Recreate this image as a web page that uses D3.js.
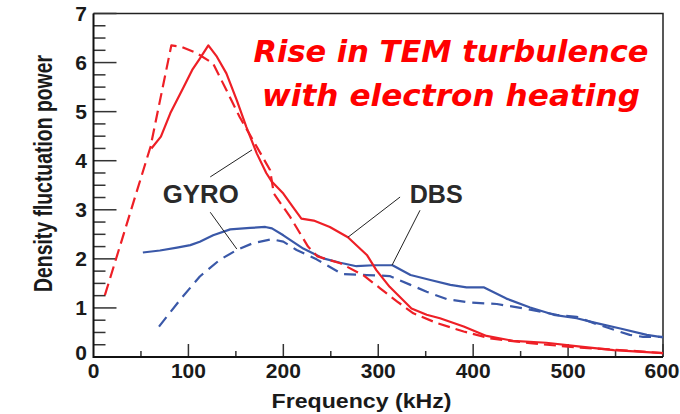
<!DOCTYPE html>
<html>
<head>
<meta charset="utf-8">
<script src="https://cdn.jsdelivr.net/npm/d3@7"></script>
<style>
    body { margin: 0; background: #fff; }
    svg { display: block; }
</style>
</head>
<body>
<div id="plot"></div>
<script>
// Density fluctuation spectra, GYRO (dashed) vs DBS (solid)
const width = 680;
const height = 414;

// frequency in kHz, power in arbitrary units
const red_solid_x = [61, 71, 81, 95, 104, 112, 121, 130, 140, 151, 161, 172, 182, 188, 200, 210, 219, 232, 249, 268, 288, 298, 312, 335, 351, 365, 390, 414, 442, 477, 513, 548, 600];
const red_solid_y = [4.25, 4.49, 4.97, 5.5, 5.85, 6.08, 6.35, 6.12, 5.78, 5.23, 4.69, 4.15, 3.75, 3.57, 3.33, 3.06, 2.82, 2.78, 2.65, 2.44, 2.08, 1.77, 1.43, 0.99, 0.86, 0.79, 0.62, 0.43, 0.33, 0.29, 0.21, 0.14, 0.08];

const red_dash_x = [12, 60, 82, 93, 109, 126, 140, 154, 168, 186, 190, 207, 226, 236, 260, 284, 302, 320, 337, 362, 390, 418, 460, 513, 565, 600];
const red_dash_y = [1.26, 4.28, 6.35, 6.32, 6.19, 5.98, 5.44, 4.89, 4.42, 3.81, 3.33, 2.86, 2.25, 2.05, 1.91, 1.67, 1.4, 1.13, 0.89, 0.69, 0.52, 0.38, 0.28, 0.19, 0.13, 0.08];

const blue_solid_x = [52, 70, 88, 102, 112, 126, 144, 165, 181, 188, 200, 221, 242, 260, 277, 295, 315, 334, 355, 376, 393, 411, 435, 460, 485, 509, 530, 555, 583, 600];
const blue_solid_y = [2.13, 2.17, 2.23, 2.28, 2.35, 2.48, 2.6, 2.63, 2.65, 2.62, 2.48, 2.21, 2.01, 1.92, 1.85, 1.87, 1.87, 1.67, 1.57, 1.47, 1.42, 1.42, 1.19, 1.01, 0.86, 0.79, 0.69, 0.58, 0.45, 0.4];

const blue_dash_x = [69, 91, 112, 133, 151, 168, 188, 200, 214, 235, 262, 288, 312, 334, 351, 372, 397, 425, 453, 488, 509, 530, 565, 579, 600];
const blue_dash_y = [0.62, 1.16, 1.64, 1.98, 2.18, 2.32, 2.4, 2.35, 2.18, 1.99, 1.69, 1.67, 1.65, 1.47, 1.33, 1.18, 1.11, 1.08, 0.99, 0.86, 0.82, 0.67, 0.45, 0.41, 0.41];

const x_ticks = [0, 100, 200, 300, 400, 500, 600];
const y_ticks = [0, 1, 2, 3, 4, 5, 6, 7];

// leader lines, in data units [x0, y0, x1, y1]
const gyro_leaders = [[123, 3.67, 167, 4.22], [123, 2.95, 151, 2.2]];
const dbs_leaders = [[323, 3.26, 268, 2.44], [344, 2.99, 314.5, 1.87]];

const red = "#ee1f26";
const blue = "#3a58a8";

const svg = d3.select("#plot").append("svg")
    .attr("width", width)
    .attr("height", height);

const scale_x = d3.scaleLinear().domain([0, 600]).range([93.5, 663]);
const scale_y = d3.scaleLinear().domain([0, 7]).range([357, 13.5]);

const zip = (xs, ys) => xs.map((x, i) => [x, ys[i]]);
const line = d3.line()
    .x(d => scale_x(d[0]))
    .y(d => scale_y(d[1]));

// frame: top and right border
svg.append("path")
    .attr("fill", "none")
    .attr("stroke", "#222")
    .attr("stroke-width", 1.5)
    .attr("d", `M ${scale_x(0)},${scale_y(7)} H ${scale_x(600)} V ${scale_y(0)}`);

// y ticks: majors every 1, minors every 0.25
const y_minor = d3.range(0, 7.001, 0.25);
svg.append("g")
    .attr("stroke", "#333")
    .attr("stroke-width", 1.5)
    .selectAll("line")
    .data(y_minor)
    .join("line")
    .attr("x1", scale_x(0))
    .attr("x2", d => scale_x(0) + (d % 1 === 0 ? 23 : 12))
    .attr("y1", d => scale_y(d))
    .attr("y2", d => scale_y(d));

// x ticks: majors every 100, minors every 50
const x_minor = d3.range(50, 601, 50);
svg.append("g")
    .attr("stroke", "#333")
    .attr("stroke-width", 1.5)
    .selectAll("line")
    .data(x_minor)
    .join("line")
    .attr("x1", d => scale_x(d))
    .attr("x2", d => scale_x(d))
    .attr("y1", scale_y(0))
    .attr("y2", d => scale_y(0) - (d % 100 === 0 ? 13 : 6));

// axis lines
svg.append("path")
    .attr("fill", "none")
    .attr("stroke", "#111")
    .attr("stroke-width", 2)
    .attr("d", `M ${scale_x(0)},${scale_y(7)} V ${scale_y(0)} H ${scale_x(600)}`);

svg.append("g")
    .attr("font-family", "Liberation Sans, Arial, sans-serif")
    .attr("font-weight", "bold")
    .attr("font-size", 21)
    .attr("fill", "#1a1a1a")
    .attr("text-anchor", "end")
    .selectAll("text")
    .data(y_ticks)
    .join("text")
    .attr("x", 87)
    .attr("y", d => scale_y(d) + (d === 0 ? 3 : 7))
    .text(d => d);

svg.append("g")
    .attr("font-family", "Liberation Sans, Arial, sans-serif")
    .attr("font-weight", "bold")
    .attr("font-size", 21)
    .attr("fill", "#1a1a1a")
    .attr("text-anchor", "middle")
    .selectAll("text")
    .data(x_ticks)
    .join("text")
    .attr("x", d => scale_x(d) - (d === 600 ? 1 : 0))
    .attr("y", 378)
    .text(d => d);

// axis titles
svg.append("text")
    .attr("x", 271.5)
    .attr("y", 408)
    .attr("font-family", "Liberation Sans, Arial, sans-serif")
    .attr("font-weight", "bold")
    .attr("font-size", 21)
    .attr("fill", "#1a1a1a")
    .attr("textLength", 180)
    .attr("lengthAdjust", "spacingAndGlyphs")
    .text("Frequency (kHz)");

svg.append("text")
    .attr("transform", "translate(52,292) rotate(-90)")
    .attr("font-family", "Liberation Sans, Arial, sans-serif")
    .attr("font-weight", "bold")
    .attr("font-size", 25)
    .attr("fill", "#1a1a1a")
    .attr("textLength", 237)
    .attr("lengthAdjust", "spacingAndGlyphs")
    .text("Density fluctuation power");

// spectra
const series = [
    { pts: zip(blue_dash_x, blue_dash_y), color: blue, dash: "12,7" },
    { pts: zip(blue_solid_x, blue_solid_y), color: blue, dash: null },
    { pts: zip(red_dash_x, red_dash_y), color: red, dash: "12,6" },
    { pts: zip(red_solid_x, red_solid_y), color: red, dash: null }
];

svg.append("g")
    .attr("fill", "none")
    .attr("stroke-width", 2.2)
    .attr("stroke-linejoin", "round")
    .selectAll("path")
    .data(series)
    .join("path")
    .attr("stroke", d => d.color)
    .attr("stroke-dasharray", d => d.dash)
    .attr("d", d => line(d.pts));

// leader lines
svg.append("g")
    .attr("stroke", "#222")
    .attr("stroke-width", 1)
    .selectAll("line")
    .data(gyro_leaders.concat(dbs_leaders))
    .join("line")
    .attr("x1", d => scale_x(d[0]))
    .attr("y1", d => scale_y(d[1]))
    .attr("x2", d => scale_x(d[2]))
    .attr("y2", d => scale_y(d[3]));

const labels = [
    { text: "GYRO", x: 113, y: 3.14, w: 76 },
    { text: "DBS", x: 361, y: 3.14, w: 53 }
];
svg.append("g")
    .attr("font-family", "Liberation Sans, Arial, sans-serif")
    .attr("font-weight", "bold")
    .attr("font-size", 25)
    .attr("fill", "#2a2a2a")
    .attr("text-anchor", "middle")
    .selectAll("text")
    .data(labels)
    .join("text")
    .attr("x", d => scale_x(d.x))
    .attr("y", d => scale_y(d.y))
    .attr("textLength", d => d.w)
    .attr("lengthAdjust", "spacingAndGlyphs")
    .text(d => d.text);

// red headline
const headline = ["Rise in TEM turbulence", "with electron heating"];
svg.append("g")
    .attr("font-family", "DejaVu Sans, sans-serif")
    .attr("font-weight", "bold")
    .attr("font-style", "italic")
    .attr("font-size", 31)
    .attr("fill", "#ff0000")
    .attr("text-anchor", "middle")
    .selectAll("text")
    .data(headline)
    .join("text")
    .attr("x", 451)
    .attr("y", (d, i) => 62 + i * 44)
    .attr("textLength", (d, i) => i === 0 ? 395 : 378)
    .attr("lengthAdjust", "spacingAndGlyphs")
    .text(d => d);
</script>
</body>
</html>
